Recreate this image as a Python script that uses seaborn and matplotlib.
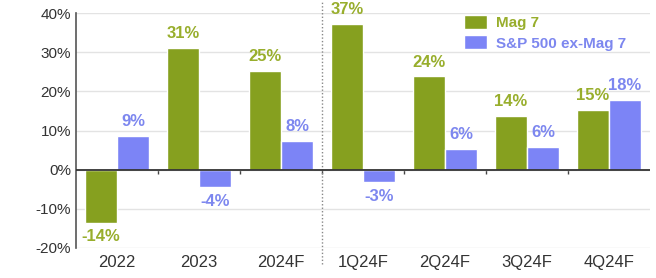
import seaborn as sns
import pandas as pd
import numpy as np
import matplotlib.pyplot as plt
from matplotlib.ticker import FuncFormatter

# data
periods = ["2022", "2023", "2024F", "1Q24F", "2Q24F", "3Q24F", "4Q24F"]
mag7 = [-13.5, 31.0, 25.1, 37.2, 23.8, 13.8, 15.3]
ex_mag7 = [8.7, -4.4, 7.4, -3.1, 5.4, 5.9, 17.9]
mag7_labels = ["-14%", "31%", "25%", "37%", "24%", "14%", "15%"]
ex_mag7_labels = ["9%", "-4%", "8%", "-3%", "6%", "6%", "18%"]
series = ["Mag 7", "S&P 500 ex-Mag 7"]

green = "#86a01f"
blue = "#7c84f6"
green_txt = "#98ae2c"
blue_txt = "#7d87ef"

df = pd.DataFrame({
    "period": periods * 2,
    "series": [series[0]] * len(periods) + [series[1]] * len(periods),
    "value": mag7 + ex_mag7,
})

sns.set_style("white")
plt.rcParams['font.family'] = ['Liberation Sans', 'DejaVu Sans']

fig = plt.figure(figsize=(6.56, 2.78), dpi=100)
ax = fig.add_axes([0.116, 0.108, 0.875, 0.845])

sns.barplot(data=df, x="period", y="value", hue="series", order=periods,
            hue_order=series, palette=[green, blue], width=0.78,
            saturation=1, ax=ax)

ax.set_ylim(-20, 40)
ax.set_xlim(-0.5, len(periods) - 0.5)
ax.set_yticks(np.arange(-20, 41, 10))
ax.yaxis.set_major_formatter(FuncFormatter(lambda v, p: f"{v:.0f}%"))
ax.grid(axis="y", color="#e3e3e3", lw=1)
ax.set_axisbelow(True)
ax.set_xlabel("")
ax.set_ylabel("")
for s in ["top", "right", "bottom"]:
    ax.spines[s].set_visible(False)
ax.spines["left"].set_color("#555555")
ax.spines["left"].set_linewidth(1.2)
ax.tick_params(axis="both", length=0, colors="#333333")
ax.tick_params(axis="y", labelsize=11)
ax.tick_params(axis="x", labelsize=12, pad=5)

# zero line with small ticks between categories
ax.axhline(0, color="#333333", lw=1.3, zorder=3)
sec = ax.secondary_xaxis(1 / 3)
sec.set_xticks(np.arange(0.5, len(periods) - 1, 1))
sec.set_xticklabels([])
sec.tick_params(length=3, width=1, color="#444444", direction="out")
sec.spines["bottom"].set_visible(False)

# dotted separator between annual and quarterly
ax.axvline(2.5, ymin=-0.07, ymax=1.05, color="#888888", ls=(0, (1, 1.5)),
           lw=1, clip_on=False)

# bar labels
for cont, labs, col in zip(ax.containers, [mag7_labels, ex_mag7_labels],
                           [green_txt, blue_txt]):
    ax.bar_label(cont, labels=labs, padding=5, color=col,
                 fontsize=12, fontweight="bold")

leg = ax.legend(loc="upper left", bbox_to_anchor=(0.652, 1.05), frameon=False,
                handlelength=1.5, handleheight=1.0, handletextpad=0.6,
                labelspacing=0.35, fontsize=11)
for t, c in zip(leg.get_texts(), [green_txt, blue_txt]):
    t.set_color(c)
    t.set_fontweight("bold")

plt.savefig("out.png", dpi=100)
